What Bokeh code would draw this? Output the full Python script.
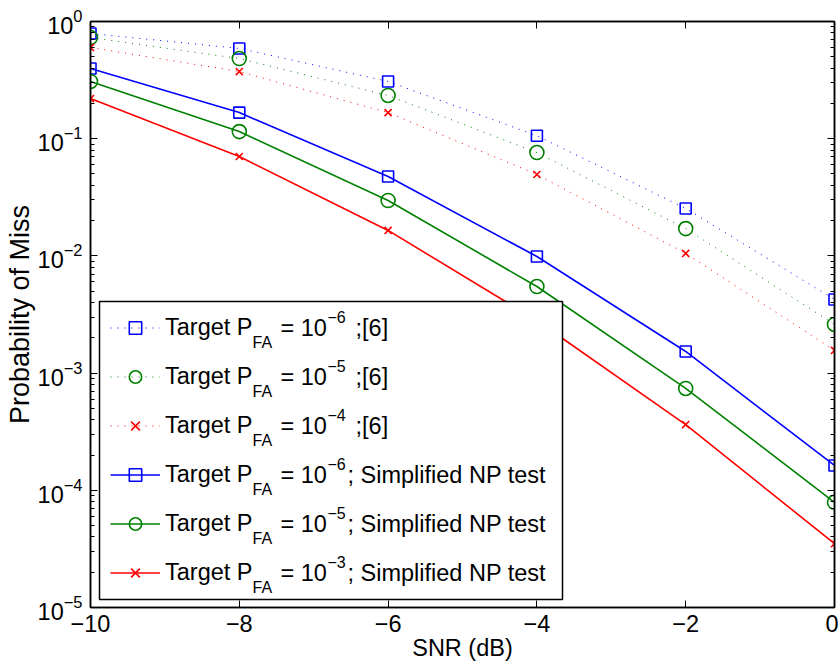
from bokeh.plotting import figure
from bokeh.models import (Range1d, LinearAxis, LogAxis, FixedTicker, Legend,
                          LegendItem, Label, BoxAnnotation)
from bokeh.embed import file_html
from bokeh.resources import INLINE
from bokeh.core.properties import value

# ---------------- data ----------------
snr_db = [-10, -8, -6, -4, -2, 0]

pm_ref6_pfa1e6 = [0.79, 0.589, 0.308, 0.106, 0.0254, 0.00425]
pm_ref6_pfa1e5 = [0.73, 0.483, 0.234, 0.0762, 0.0171, 0.0026]
pm_ref6_pfa1e4 = [0.60, 0.374, 0.167, 0.0495, 0.0105, 0.00156]
pm_np_pfa1e6 = [0.397, 0.167, 0.0476, 0.00988, 0.00153, 1.63e-4]
pm_np_pfa1e5 = [0.308, 0.115, 0.0297, 0.00548, 7.4e-4, 7.9e-5]
pm_np_pfa1e3 = [0.220, 0.0705, 0.0165, 0.00281, 3.64e-4, 3.5e-5]

x_ticks = [-10, -8, -6, -4, -2, 0]
x_tick_labels = ["\u221210", "\u22128", "\u22126", "\u22124", "\u22122", "0"]
y_ticks = [1e-5, 1e-4, 1e-3, 1e-2, 1e-1, 1e0]

legend_exponents = ["\u22126", "\u22125", "\u22124", "\u22126", "\u22125", "\u22123"]
legend_suffixes = [";[6]", ";[6]", ";[6]",
                   "; Simplified NP test", "; Simplified NP test", "; Simplified NP test"]

x_label = "SNR (dB)"
y_label = "Probability of Miss"

# ---------------- style ----------------
FONT = "Liberation Sans"
FS = "23.5px"
FS_SMALL = "16px"
BLUE, GREEN, RED = "#0000ff", "#008000", "#ff0000"

series = [
    (pm_ref6_pfa1e6, BLUE, "square", "1 6", 1.0, 11),
    (pm_ref6_pfa1e5, GREEN, "circle", "1 6", 1.0, 14),
    (pm_ref6_pfa1e4, RED, "x", "1 6", 1.0, 10),
    (pm_np_pfa1e6, BLUE, "square", "solid", 1.6, 11),
    (pm_np_pfa1e5, GREEN, "circle", "solid", 1.6, 14),
    (pm_np_pfa1e3, RED, "x", "solid", 1.6, 10),
]

p = figure(width=838, height=669, x_range=Range1d(-10, 0),
           y_range=Range1d(1e-5, 1), y_axis_type="log",
           output_backend="svg", toolbar_location=None,
           min_border_left=90, min_border_right=4,
           min_border_top=21, min_border_bottom=62)
p.grid.visible = False
p.outline_line_color = "black"
p.outline_line_width = 1.5
p.background_fill_color = "white"
p.border_fill_color = "white"

minor_y = [m * 10.0 ** d for d in range(-5, 0) for m in range(2, 10)]

xa = p.xaxis[0]
xa.ticker = FixedTicker(ticks=x_ticks)
xa.major_label_overrides = dict(zip(x_ticks, x_tick_labels))
ya = p.yaxis[0]
ya.ticker = FixedTicker(ticks=y_ticks, minor_ticks=minor_y)

for ax, lab in ((xa, x_label), (ya, y_label)):
    ax.major_tick_in = 7
    ax.major_tick_out = 0
    ax.minor_tick_in = 4
    ax.minor_tick_out = 0
    ax.axis_line_color = "black"
    ax.axis_line_width = 1.5
    ax.major_tick_line_color = "black"
    ax.minor_tick_line_color = "black"
    ax.major_label_text_font = FONT
    ax.major_label_text_font_size = FS
    ax.major_label_text_color = "black"
    ax.axis_label = lab
    ax.axis_label_text_font = FONT
    ax.axis_label_text_font_style = "normal"
    ax.axis_label_text_color = "black"
    ax.axis_label_standoff = 0
xa.major_label_standoff = 7
xa.axis_label_text_font_size = FS
ya.major_label_standoff = 8
ya.axis_label_text_font_size = "27px"

# mirrored ticks on top and right (no labels)
top = LinearAxis(ticker=FixedTicker(ticks=x_ticks))
right = LogAxis(ticker=FixedTicker(ticks=y_ticks, minor_ticks=minor_y))
for ax in (top, right):
    ax.major_tick_in = 7
    ax.major_tick_out = 0
    ax.minor_tick_in = 4
    ax.minor_tick_out = 0
    ax.axis_line_color = "black"
    ax.axis_line_width = 1.5
    ax.major_label_text_font_size = "0px"
    ax.major_label_text_color = None
    ax.major_label_standoff = 0
p.add_layout(top, "above")
p.add_layout(right, "right")

items = []
for ys, color, marker, dash, lw, size in series:
    ln = p.line(snr_db, ys, line_color=color, line_width=lw, line_dash=dash)
    sc = p.scatter(snr_db, ys, marker=marker, size=size, line_color=color,
                   fill_color=None, line_width=1.6)
    items.append(LegendItem(label=value("Target P"), renderers=[ln, sc]))

PAD, ROW, SPACE = 11, 31, 18
LEG_X, LEG_Y, LEG_W = 9, 8, 463
legend_h = 2 * PAD + 6 * ROW + 5 * SPACE

# white legend box (drawn first, below the legend samples and texts)
p.add_layout(BoxAnnotation(left=LEG_X, right=LEG_X + LEG_W, bottom=LEG_Y,
                           top=LEG_Y + legend_h, left_units="screen",
                           right_units="screen", bottom_units="screen",
                           top_units="screen", fill_color="white",
                           fill_alpha=1.0, line_color="black",
                           line_width=1.5, line_alpha=1.0, editable=False))

# borderless legend ignores padding, so offset it by the padding instead
legend = Legend(items=items, location=(LEG_X + PAD, LEG_Y + PAD), padding=0,
                spacing=SPACE, glyph_width=50, glyph_height=ROW,
                label_height=ROW, label_width=LEG_W - 2 * PAD - 55,
                label_standoff=5, margin=0,
                border_line_color=None, background_fill_alpha=0.0,
                label_text_font=FONT, label_text_font_size=FS,
                label_text_color="black")
p.add_layout(legend)

# sub/superscript pieces of the legend entries (centres given)
for i, (ex, suf) in enumerate(zip(legend_exponents, legend_suffixes)):
    cy = LEG_Y + legend_h - PAD - ROW / 2 - i * (ROW + SPACE)
    pieces = [("FA", 162, cy - 14, FS_SMALL),
              ("= 10", 190, cy, FS),
              (ex, 237, cy + 11, FS_SMALL),
              (suf, 265 if suf.startswith(";[") else 257, cy, FS)]
    for txt, px, py, fs in pieces:
        p.add_layout(Label(x=px, y=py, x_units="screen", y_units="screen",
                           text=txt, text_font=FONT, text_font_size=fs,
                           text_color="black", text_baseline="middle",
                           text_align="left"))

open("out.html", "w").write(file_html(p, INLINE))
